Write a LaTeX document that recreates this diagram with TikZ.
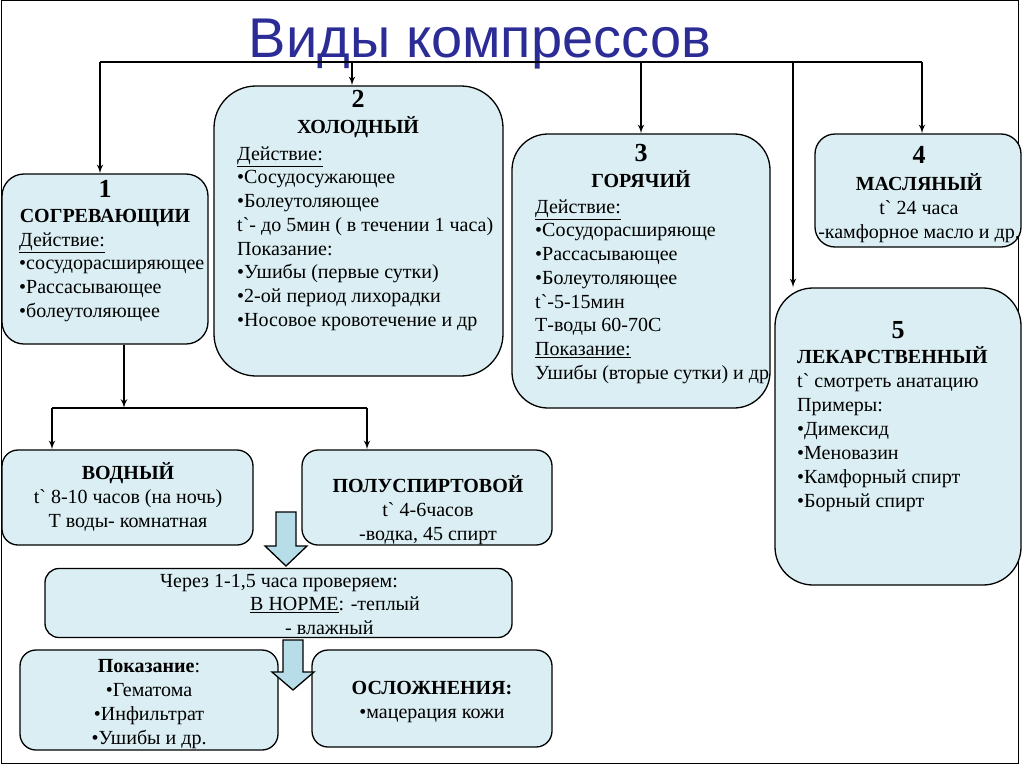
\documentclass[tikz,border=0pt]{standalone}
\usepackage{fontspec}
\setmainfont{Liberation Serif}
\newfontfamily\titlefont{Liberation Sans}
\usetikzlibrary{arrows}

\definecolor{boxfill}{RGB}{218,238,243}
\definecolor{arrowfill}{RGB}{183,221,232}
\definecolor{titleblue}{RGB}{44,44,150}
\newcommand{\fl}{\rule{0pt}{18pt}}
\newcommand{\tg}{t\textasciigrave{}}
\newcommand{\nr}[1]{{\fontsize{26}{26}\selectfont\bfseries #1}}

\tikzset{
  kbox/.style={draw=black, line width=1.3pt, fill=boxfill, inner sep=0pt},
  head/.style={font=\fontsize{20}{24}\selectfont\bfseries, align=center, inner sep=0pt, anchor=north},
  body/.style={font=\fontsize{20}{23.7}\selectfont, align=left, inner sep=0pt, anchor=north west},
  cbody/.style={font=\fontsize{20}{24}\selectfont, align=center, inner sep=0pt, anchor=north},
  link/.style={line width=2pt, ->, >=latex'},
  bar/.style={line width=2pt},
  barrow/.style={draw=black, line width=1.3pt, fill=arrowfill, line join=miter},
}

\begin{document}
\begin{tikzpicture}[x=1pt, y=-1pt]
\useasboundingbox (0,0) rectangle (1024,768);
\draw[line width=1pt] (1,1) rectangle (1018,763);

% title
\node[anchor=base, font=\titlefont\fontsize{56}{60}\selectfont, text=titleblue] (title) at (480,57) {Виды компрессов};

% the five kinds
\node[kbox, rounded corners=22pt, minimum width=206pt, minimum height=170pt] (b1) at (105,259) {};
\node[kbox, rounded corners=42pt, minimum width=289pt, minimum height=290pt] (b2) at (358.5,231) {};
\node[kbox, rounded corners=36pt, minimum width=258pt, minimum height=274pt] (b3) at (641,271) {};
\node[kbox, rounded corners=20pt, minimum width=206pt, minimum height=113pt] (b4) at (918,190.5) {};
\node[kbox, rounded corners=38pt, minimum width=246pt, minimum height=297pt] (b5) at (898,436.5) {};

% warming compress: sorts, check, result
\node[kbox, rounded corners=16pt, minimum width=251pt, minimum height=95pt] (bw) at (127.5,497.5) {};
\node[kbox, rounded corners=16pt, minimum width=250pt, minimum height=95pt] (bp) at (427,497.5) {};
\node[kbox, rounded corners=14pt, minimum width=467pt, minimum height=69pt] (bc) at (278.5,603) {};
\node[kbox, rounded corners=16pt, minimum width=258pt, minimum height=100pt] (bk) at (149,700) {};
\node[kbox, rounded corners=16pt, minimum width=240pt, minimum height=97pt] (bo) at (432,698.5) {};

% connectors
\coordinate (j1) at (100,62);
\coordinate (j2) at (352,62);
\coordinate (j3) at (641,62);
\coordinate (j5) at (793,62);
\coordinate (j4) at (922,62);
\draw[bar] (j1) -- (j4);
\foreach \j/\b in {j1/b1, j2/b2, j3/b3, j4/b4, j5/b5}
  \draw[link] (\j) -- (\j |- \b.north);

\coordinate (fork) at (124,408);
\coordinate (fl) at (52,408);
\coordinate (fr) at (367,408);
\draw[link] (fork |- b1.south) -- (fork);
\draw[bar] (fl) -- (fr);
\draw[link] (fl) -- (fl |- bw.north);
\draw[link] (fr) -- (fr |- bp.north);

% block arrows
\coordinate (a1) at (286,512);
\coordinate (a2) at (293,640);
\filldraw[barrow] (a1) ++(-10,0) -- ++(20,0) -- ++(0,34) -- ++(11,0) -- ++(-21,20) -- ++(-21,-20) -- ++(11,0) -- cycle;
\filldraw[barrow] (a2) ++(-10,0) -- ++(20,0) -- ++(0,32) -- ++(11,0) -- ++(-21,18) -- ++(-21,-18) -- ++(11,0) -- cycle;

% texts
\node[head] (h1) at (105,179) {\fl\nr{1}\\[1pt]СОГРЕВАЮЩИИ};
\node[body] (t1) at (19,228) {\fl\underline{Действие:}\\•сосудорасширяющее\\•Рассасывающее\\•болеутоляющее};

\node[head] (h2) at (358,89) {\fl\nr{2}\\[2pt]ХОЛОДНЫЙ};
\node[body] (t2) at (237,142) {\fl\underline{Действие:}\\•Сосудосужающее\\•Болеутоляющее\\\tg- до 5мин ( в течении 1 часа)\\Показание:\\•Ушибы (первые сутки)\\•2-ой период лихорадки\\•Носовое кровотечение и др};

\node[head] (h3) at (641,143) {\fl\nr{3}\\[2pt]ГОРЯЧИЙ};
\node[body] (t3) at (535,195) {\fl\underline{Действие:}\\•Сосудорасширяюще\\•Рассасывающее\\•Болеутоляющее\\\tg-5-15мин\\Т-воды 60-70С\\\underline{Показание:}\\Ушибы (вторые сутки) и др};

\node[cbody] (t4) at (919,145) {\fl\nr{4}\\[3pt]\textbf{МАСЛЯНЫЙ}\\\tg{} 24 часа\\-камфорное масло и др.};

\node[head] (h5) at (898,320) {\fl\nr{5}};
\node[body, font=\fontsize{20}{24}\selectfont] (t5) at (797,345) {\fl\textbf{ЛЕКАРСТВЕННЫЙ}\\\tg{} смотреть анатацию\\Примеры:\\•Димексид\\•Меновазин\\•Камфорный спирт\\•Борный спирт};

\node[cbody] (tw) at (128,461) {\fl\textbf{ВОДНЫЙ}\\\tg{} 8-10 часов (на ночь)\\Т воды- комнатная};
\node[cbody] (tp) at (428,474) {\fl\textbf{ПОЛУСПИРТОВОЙ}\\\tg{} 4-6часов\\-водка, 45 спирт};
\node[body] (tc) at (160,569) {\fl Через 1-1,5 часа проверяем:\\\hspace*{90pt}\underline{В НОРМЕ}: -теплый\\\hspace*{125pt}- влажный};
\node[cbody] (tk) at (149,654) {\fl\textbf{Показание}:\\•Гематома\\•Инфильтрат\\•Ушибы и др.};
\node[cbody] (to) at (432,676) {\fl\textbf{ОСЛОЖНЕНИЯ:}\\•мацерация кожи};
\end{tikzpicture}
\end{document}
